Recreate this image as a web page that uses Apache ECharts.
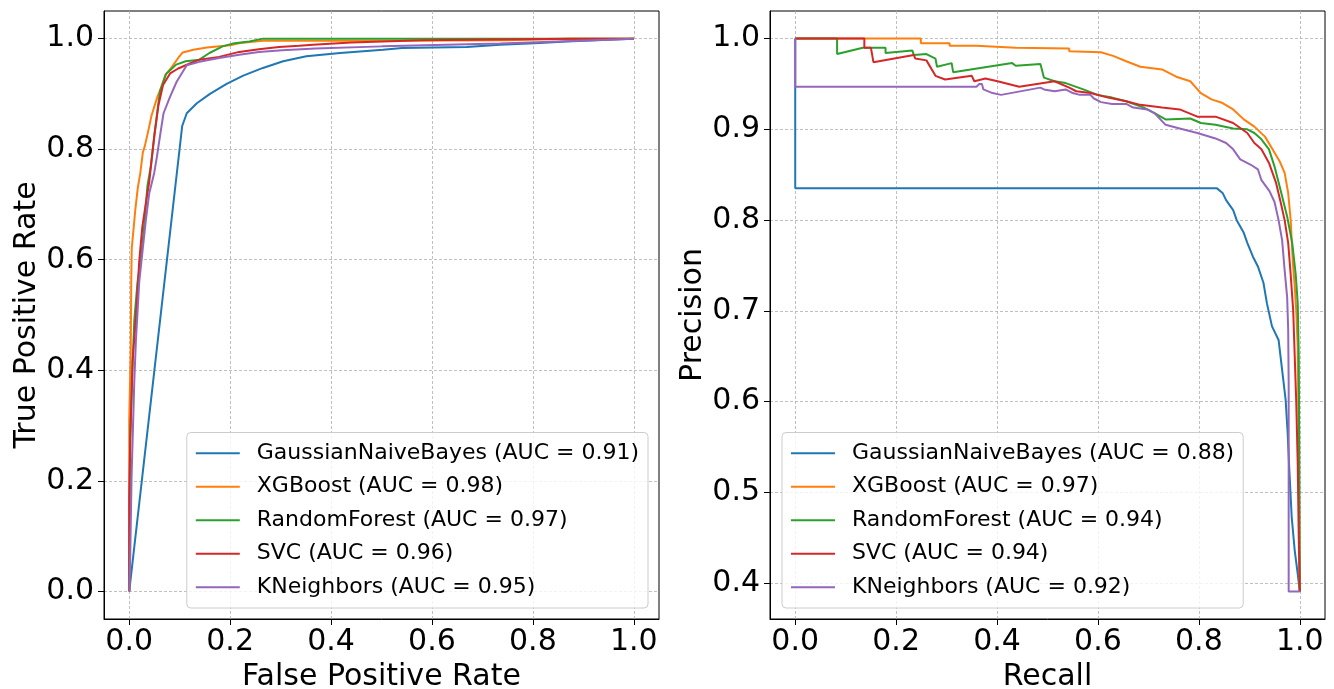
<!DOCTYPE html>
<html>
<head>
<meta charset="utf-8">
<script src="https://cdn.jsdelivr.net/npm/echarts@6/dist/echarts.min.js"></script>
<style>
html,body{margin:0;padding:0;background:#fff;}
#chart{width:1334px;height:689px;}
</style>
</head>
<body>
<div id="chart"></div>
<script>
// ---------- data ----------
const colors = ['#1f77b4', '#ff7f0e', '#2ca02c', '#d62728', '#9467bd'];

const rocNames = [
  'GaussianNaiveBayes (AUC = 0.91)',
  'XGBoost (AUC = 0.98)',
  'RandomForest (AUC = 0.97)',
  'SVC (AUC = 0.96)',
  'KNeighbors (AUC = 0.95)'
];
const prNames = [
  'GaussianNaiveBayes (AUC = 0.88)',
  'XGBoost (AUC = 0.97)',
  'RandomForest (AUC = 0.94)',
  'SVC (AUC = 0.94)',
  'KNeighbors (AUC = 0.92)'
];

const rocTicks = [0, 0.2, 0.4, 0.6, 0.8, 1.0];
const prXTicks = [0, 0.2, 0.4, 0.6, 0.8, 1.0];
const prYTicks = [0.4, 0.5, 0.6, 0.7, 0.8, 0.9, 1.0];

// ROC curves [FPR, TPR]
const rocGNB = [[0,0],[0.105,0.842],[0.114,0.865],[0.134,0.883],[0.160,0.900],[0.193,0.918],[0.226,0.933],[0.265,0.947],[0.305,0.959],[0.351,0.968],[0.418,0.974],[0.503,0.980],[0.541,0.983],[0.669,0.985],[0.735,0.989],[0.814,0.992],[0.866,0.995],[1.0,1.0]];
const rocXGB = [[0,0],[0,0.31],[0.003,0.44],[0.004,0.56],[0.005,0.621],[0.009,0.66],[0.012,0.69],[0.017,0.73],[0.022,0.757],[0.027,0.794],[0.031,0.806],[0.037,0.830],[0.044,0.860],[0.049,0.875],[0.056,0.895],[0.063,0.911],[0.072,0.935],[0.084,0.948],[0.097,0.965],[0.106,0.975],[0.127,0.980],[0.154,0.984],[0.200,0.988],[0.220,0.992],[0.265,0.996],[0.50,0.996],[0.75,0.997],[0.873,1.0],[1,1]];
const rocRF = [[0,0],[0.002,0.277],[0.007,0.418],[0.010,0.49],[0.0165,0.56],[0.023,0.60],[0.030,0.665],[0.036,0.733],[0.043,0.77],[0.050,0.827],[0.056,0.87],[0.061,0.905],[0.073,0.936],[0.093,0.953],[0.112,0.959],[0.139,0.962],[0.159,0.974],[0.185,0.986],[0.205,0.991],[0.238,0.995],[0.265,1.0],[1,1]];
const rocSVC = [[0,0],[0,0.17],[0.002,0.277],[0.0066,0.418],[0.013,0.49],[0.0198,0.597],[0.026,0.66],[0.033,0.703],[0.0396,0.740],[0.0440,0.778],[0.050,0.826],[0.058,0.880],[0.067,0.916],[0.081,0.937],[0.097,0.946],[0.120,0.955],[0.139,0.962],[0.178,0.967],[0.218,0.976],[0.257,0.981],[0.297,0.985],[0.337,0.987],[0.364,0.989],[0.44,0.993],[0.58,0.997],[0.873,1.0],[1,1]];
const rocKN = [[0,0],[0.002,0.066],[0.0046,0.207],[0.0099,0.376],[0.0132,0.453],[0.0198,0.56],[0.0264,0.616],[0.033,0.672],[0.0396,0.72],[0.0495,0.757],[0.055,0.787],[0.062,0.83],[0.068,0.865],[0.081,0.895],[0.094,0.922],[0.114,0.952],[0.139,0.958],[0.178,0.965],[0.218,0.971],[0.257,0.976],[0.303,0.979],[0.369,0.982],[0.501,0.986],[0.735,0.991],[0.85,0.995],[1,1]];

// Precision-Recall curves [Recall, Precision]
const prGNB = [[0,1],[0,0.835],[0.836,0.835],[0.847,0.830],[0.854,0.822],[0.868,0.811],[0.875,0.800],[0.889,0.786],[0.896,0.775],[0.907,0.760],[0.917,0.749],[0.928,0.731],[0.935,0.708],[0.945,0.683],[0.958,0.668],[0.965,0.635],[0.972,0.602],[0.976,0.565],[0.979,0.528],[0.984,0.473],[0.990,0.436],[0.996,0.410],[1.0,0.391]];
const prXGB = [[0,1],[0.249,1],[0.249,0.995],[0.306,0.995],[0.306,0.992],[0.359,0.992],[0.359,0.990],[0.437,0.990],[0.437,0.988],[0.543,0.989],[0.543,0.986],[0.606,0.985],[0.606,0.983],[0.630,0.981],[0.656,0.975],[0.684,0.969],[0.727,0.966],[0.755,0.958],[0.783,0.953],[0.804,0.940],[0.825,0.933],[0.847,0.929],[0.868,0.922],[0.889,0.911],[0.910,0.903],[0.931,0.892],[0.946,0.878],[0.960,0.865],[0.970,0.852],[0.977,0.830],[0.982,0.800],[0.986,0.756],[0.990,0.727],[0.993,0.700],[0.996,0.660],[0.998,0.550],[1.0,0.391]];
const prRF = [[0,1],[0.083,1],[0.083,0.983],[0.134,0.990],[0.179,0.990],[0.179,0.984],[0.232,0.987],[0.235,0.982],[0.260,0.983],[0.278,0.978],[0.281,0.969],[0.310,0.973],[0.313,0.963],[0.430,0.973],[0.437,0.970],[0.486,0.972],[0.493,0.957],[0.514,0.953],[0.536,0.951],[0.571,0.944],[0.599,0.938],[0.628,0.935],[0.656,0.931],[0.691,0.924],[0.712,0.918],[0.734,0.911],[0.783,0.912],[0.804,0.907],[0.833,0.905],[0.868,0.901],[0.896,0.900],[0.910,0.896],[0.924,0.889],[0.939,0.878],[0.950,0.859],[0.962,0.833],[0.975,0.804],[0.985,0.775],[0.992,0.740],[0.996,0.708],[0.998,0.650],[0.999,0.550],[1.0,0.391]];
const prSVC = [[0,1],[0.137,1],[0.137,0.990],[0.150,0.990],[0.155,0.974],[0.235,0.982],[0.238,0.978],[0.260,0.976],[0.278,0.959],[0.297,0.955],[0.350,0.959],[0.355,0.953],[0.377,0.956],[0.401,0.953],[0.444,0.947],[0.514,0.953],[0.543,0.946],[0.557,0.942],[0.585,0.940],[0.620,0.935],[0.656,0.931],[0.684,0.927],[0.727,0.924],[0.762,0.922],[0.797,0.914],[0.833,0.914],[0.868,0.907],[0.896,0.896],[0.910,0.885],[0.924,0.878],[0.939,0.863],[0.953,0.841],[0.962,0.820],[0.970,0.800],[0.977,0.775],[0.982,0.740],[0.987,0.700],[0.990,0.650],[0.993,0.600],[0.996,0.530],[0.998,0.450],[1.0,0.391]];
const prKN = [[0,1],[0,0.947],[0.359,0.947],[0.365,0.950],[0.370,0.950],[0.373,0.944],[0.391,0.940],[0.408,0.938],[0.486,0.946],[0.493,0.944],[0.514,0.942],[0.536,0.944],[0.550,0.940],[0.564,0.938],[0.585,0.938],[0.592,0.934],[0.606,0.930],[0.628,0.928],[0.656,0.928],[0.670,0.924],[0.698,0.922],[0.712,0.918],[0.734,0.905],[0.762,0.901],[0.797,0.896],[0.833,0.890],[0.854,0.885],[0.868,0.878],[0.882,0.867],[0.903,0.861],[0.917,0.856],[0.924,0.844],[0.940,0.832],[0.950,0.820],[0.958,0.800],[0.965,0.778],[0.970,0.745],[0.975,0.715],[0.977,0.680],[0.978,0.620],[0.978,0.391],[1.0,0.391]];

const rocData = [rocGNB, rocXGB, rocRF, rocSVC, rocKN];
const prData = [prGNB, prXGB, prRF, prSVC, prKN];

// ---------- chart ----------
const FONT = 'DejaVu Sans';
const gridStyle = {show: true, borderColor: '#000', borderWidth: 1, backgroundColor: 'transparent', containLabel: false, outerBoundsMode: 'none'};
const splitStyle = {show: true, lineStyle: {color: '#b0b0b0', width: 0.8, type: [3, 2]}};
const fmt = v => Number(v).toFixed(1);

function valueAxis(gridIndex, min, max, ticks, name, nameGap, isY) {
  return {
    gridIndex, type: 'value', min, max,
    name, nameLocation: 'middle', nameGap,
    nameTextStyle: {fontSize: 30, color: '#000', fontFamily: FONT},
    axisLine: {show: true, onZero: false, lineStyle: {color: '#000', width: 1}},
    axisTick: {show: true, inside: false, length: 6, lineStyle: {color: '#000', width: 1}, customValues: ticks},
    axisLabel: {customValues: ticks, formatter: fmt, fontSize: 30, color: '#000', fontFamily: FONT, margin: isY ? 10 : 8},
    splitLine: splitStyle
  };
}

const legendBase = {
  orient: 'vertical',
  icon: 'rect',
  itemWidth: 44,
  itemHeight: 2,
  itemGap: 8,
  padding: [8, 9, 8, 9],
  backgroundColor: 'rgba(255,255,255,0.8)',
  borderColor: '#cccccc',
  borderWidth: 1,
  borderRadius: 4,
  selectedMode: false,
  textStyle: {fontSize: 22, lineHeight: 25.5, color: '#000', fontFamily: FONT, padding: [0, 0, 0, 12]}
};

const series = [];
rocData.forEach((d, i) => series.push({
  name: rocNames[i], type: 'line', xAxisIndex: 0, yAxisIndex: 0, data: d,
  symbol: 'none', showSymbol: false, color: colors[i], lineStyle: {width: 2, color: colors[i]}
}));
prData.forEach((d, i) => series.push({
  name: prNames[i], type: 'line', xAxisIndex: 1, yAxisIndex: 1, data: d,
  symbol: 'none', showSymbol: false, color: colors[i], lineStyle: {width: 2, color: colors[i]}
}));

const option = {
  animation: false,
  backgroundColor: '#fff',
  textStyle: {fontFamily: FONT},
  grid: [
    Object.assign({left: 104, top: 11, width: 555, height: 608}, gridStyle),
    Object.assign({left: 770, top: 11, width: 555, height: 608}, gridStyle)
  ],
  xAxis: [
    valueAxis(0, -0.05, 1.05, rocTicks, 'False Positive Rate', 38, false),
    valueAxis(1, -0.05, 1.05, prXTicks, 'Recall', 38, false)
  ],
  yAxis: [
    valueAxis(0, -0.05, 1.05, rocTicks, 'True Positive Rate', 60, true),
    valueAxis(1, 0.3606, 1.0304, prYTicks, 'Precision', 60, true)
  ],
  legend: [
    Object.assign({data: rocNames, right: 1334 - 648, bottom: 689 - 608}, legendBase),
    Object.assign({data: prNames, left: 782, bottom: 689 - 608}, legendBase)
  ],
  series
};

const chart = echarts.init(document.getElementById('chart'), null, {renderer: 'canvas'});
chart.setOption(option);
</script>
</body>
</html>
